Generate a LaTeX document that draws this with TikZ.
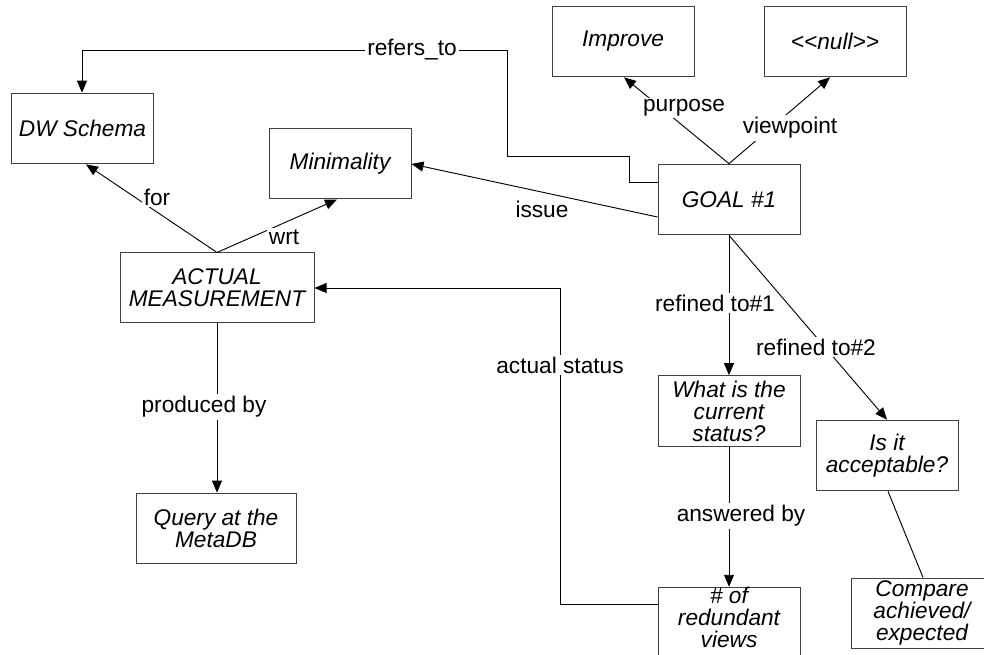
\documentclass[tikz,border=0pt]{standalone}
\usepackage{fontspec}
\setmainfont{Liberation Sans}
\usetikzlibrary{arrows.meta,calc}
\begin{document}
\begin{tikzpicture}[x=0.75pt,y=-0.75pt,
  concept/.style={draw=black!75,line width=0.75pt,fill=white,inner sep=0pt,
    minimum width=106.5pt,minimum height=53pt,align=center,
    font=\fontsize{17}{16.5}\selectfont\itshape},
  rel/.style={line width=0.7pt,draw=black},
  arr/.style={rel,-{Triangle[length=9pt,width=7.5pt]}},
  lbl/.style={fill=white,inner sep=1.5pt,font=\fontsize{17}{17}\selectfont}]
\useasboundingbox (0,0) rectangle (984,655);
\clip (0,0) rectangle (984,655);
\fill[white] (0,0) rectangle (984,655);

% concept boxes
\node[concept] (improve) at (623,41.5) {Improve};
\node[concept] (null) at (835,41.5) {<{}<null>{}>};
\node[concept] (dw) at (82.5,128.5) {DW Schema};
\node[concept,minimum height=52.5pt] (minim) at (340,164) {Minimality};
\node[concept] (goal) at (729,199.5) {GOAL \#1};
\node[concept,minimum width=145.5pt,minimum height=52.5pt] (meas) at (217,288) {ACTUAL\\MEASUREMENT};
\node[concept,minimum width=120pt] (query) at (216,528.5) {Query at the\\MetaDB};
\node[concept] (what) at (729,411) {What is the\\current\\status?};
\node[concept] (accept) at (887,455.5) {Is it\\acceptable?};
% the extra depth lifts the three lines towards the top edge of the box
\node[concept] (redund) at (729,623.5) {\# of\\redundant\\views\rule[-9pt]{0pt}{0pt}};
\node[concept,minimum height=52.5pt] (compare) at (922,613) {Compare\\achieved/\\expected};

% connectors
\draw[arr] ($(goal.west)+(0,-17.5)$) -- ++(-28,0) |- (507,156) |- (82,50) -- (dw.north -| 82,0);
\draw[arr] (goal.north) -- ($(improve.south)+(1,0)$);
\draw[arr] (goal.north) -- ($(null.south)+(-5,0)$);
\draw[arr] ($(goal.west)+(0,17.5)$) -- (minim.east);
\draw[arr] (meas.north) -- ($(dw.south)+(3.5,0)$);
\draw[arr] (meas.north) -- ($(minim.south)+(-3,0)$);
\draw[arr] (meas.south) -- (query.north -| meas.south);
\draw[arr] (goal.south) -- (what.north);
\draw[arr] (goal.south) -- (accept.north);
\draw[arr] (what.south) -- (redund.north);
\draw[arr] ($(redund.west)+(0,-19.5)$) -- ++(-97,0) |- (meas.east);
\draw[rel] ($(accept.south)+(1,0)$) -- ($(compare.north)+(1,0)$);

% relation labels
\node[lbl] (lrefers) at (412,50) {refers\_to};
\node[lbl] (lpurpose) at (684,108) {purpose};
\node[lbl] (lview) at (790,128) {viewpoint};
\node[lbl] (lissue) at (542,209) {issue};
\node[lbl] (lfor) at (157,197) {for};
\node[lbl] (lwrt) at (284,237) {wrt};
\node[lbl] (lprod) at (204,407) {produced by};
\node[lbl] (lref1) at (715,303) {refined to\#1};
\node[lbl] (lref2) at (816,347) {refined to\#2};
\node[lbl] (lans) at (741,516) {answered by};
\node[lbl] (lactual) at (560,365) {actual status};
\end{tikzpicture}
\end{document}
